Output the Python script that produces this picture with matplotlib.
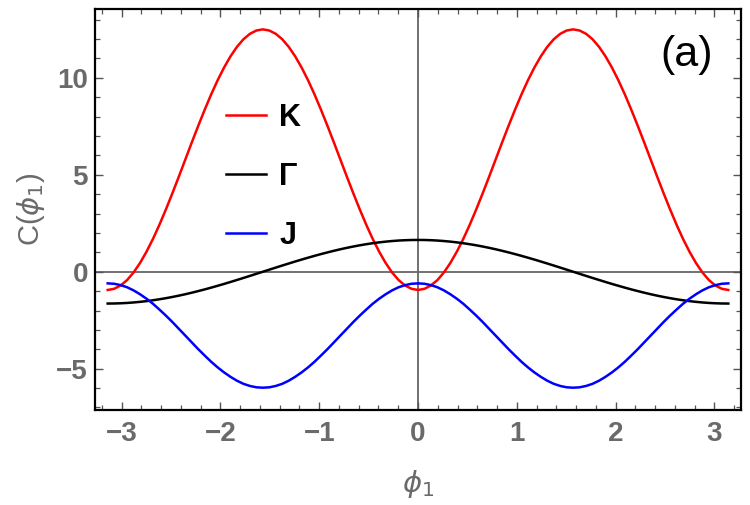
import numpy as np
import matplotlib
matplotlib.use("Agg")
import matplotlib.pyplot as plt
from matplotlib.ticker import MultipleLocator

# phi_1 sampled from -pi to pi in steps of pi/48
phi = np.linspace(-np.pi, np.pi, 97)

# values for phi in [-pi, -pi/2]; the curves are
# mirror-symmetric, so the rest is built by reflecting these quarters
K_quarter = [-0.94, -0.88, -0.71, -0.43, -0.04, 0.45, 1.03, 1.69, 2.42, 3.21, 4.04, 4.90,
             5.78, 6.66, 7.52, 8.35, 9.14, 9.87, 10.53, 11.11, 11.60, 11.99, 12.27, 12.44, 12.50]
G_quarter = [-1.64, -1.637, -1.626, -1.609, -1.584, -1.553, -1.515, -1.471, -1.420, -1.364,
             -1.301, -1.233, -1.160, -1.081, -0.998, -0.911, -0.820, -0.725, -0.628, -0.527,
             -0.424, -0.320, -0.214, -0.107, 0.0]
J_quarter = [-0.60, -0.62, -0.69, -0.80, -0.96, -1.16, -1.39, -1.65, -1.95, -2.26, -2.59, -2.94,
             -3.29, -3.64, -3.99, -4.32, -4.64, -4.93, -5.19, -5.42, -5.62, -5.78, -5.89, -5.96, -5.98]

K_half = K_quarter + K_quarter[-2::-1]
J_half = J_quarter + J_quarter[-2::-1]
G_half = G_quarter + [-v for v in G_quarter[-2::-1]]

K_vals = K_half + K_half[-2::-1]
G_vals = G_half + G_half[-2::-1]
J_vals = J_half + J_half[-2::-1]

labels = ["K", "\u0393", "J"]
colors = ["#ff0000", "#000000", "#0000ff"]

plt.rcParams['font.family'] = ['Liberation Sans', 'DejaVu Sans']
plt.rcParams['mathtext.fontset'] = 'dejavusans'

fig = plt.figure(figsize=(7.5, 5.05), dpi=100)
ax = fig.add_axes([95 / 750, 1 - 410 / 505, (741 - 95) / 750, (410 - 9) / 505])

ax.axhline(0, color='#666666', lw=1.3, zorder=1)
ax.axvline(0, color='#666666', lw=1.3, zorder=1)

for vals, lab, c in zip([K_vals, G_vals, J_vals], labels, colors):
    ax.plot(phi, vals, color=c, lw=1.8, label=lab, zorder=3)

ax.set_xlim(-3.27, 3.27)
ax.set_ylim(-7.13, 13.55)

ax.xaxis.set_major_locator(MultipleLocator(1))
ax.xaxis.set_minor_locator(MultipleLocator(0.2))
ax.yaxis.set_major_locator(MultipleLocator(5))
ax.yaxis.set_minor_locator(MultipleLocator(1))

gray = '#6a6a6a'
ax.tick_params(which='both', direction='in', top=True, right=True, color='#555555')
ax.tick_params(which='major', length=6, width=1.0, labelsize=20, labelcolor=gray)
ax.tick_params(which='minor', length=3.5, width=0.9)
ax.tick_params(axis='x', pad=8)
ax.tick_params(axis='y', pad=5)
for lbl in ax.get_xticklabels() + ax.get_yticklabels():
    lbl.set_fontweight('bold')

fmt = plt.FuncFormatter(lambda v, p: f"{int(round(v))}".replace('-', '\u2212'))
ax.xaxis.set_major_formatter(fmt)
ax.yaxis.set_major_formatter(fmt)

for s in ax.spines.values():
    s.set_linewidth(1.6)
    s.set_color('black')

ax.set_xlabel(r'$\phi_1$', fontsize=21, color=gray)
ax.set_ylabel(r'C($\phi_1$)', fontsize=21, color=gray)
ax.xaxis.set_label_coords(0.5, -0.145)
ax.yaxis.set_label_coords(-0.075, 0.5)

leg = ax.legend(loc='upper left', bbox_to_anchor=(0.16, 0.835), frameon=False,
                handlelength=1.3, handletextpad=0.45, labelspacing=0.95,
                prop={'size': 22, 'weight': 'bold'})

ax.text(0.957, 0.885, "(a)", transform=ax.transAxes, fontsize=31,
        ha='right', va='center', color='black')

fig.savefig("out.png", dpi=100)
